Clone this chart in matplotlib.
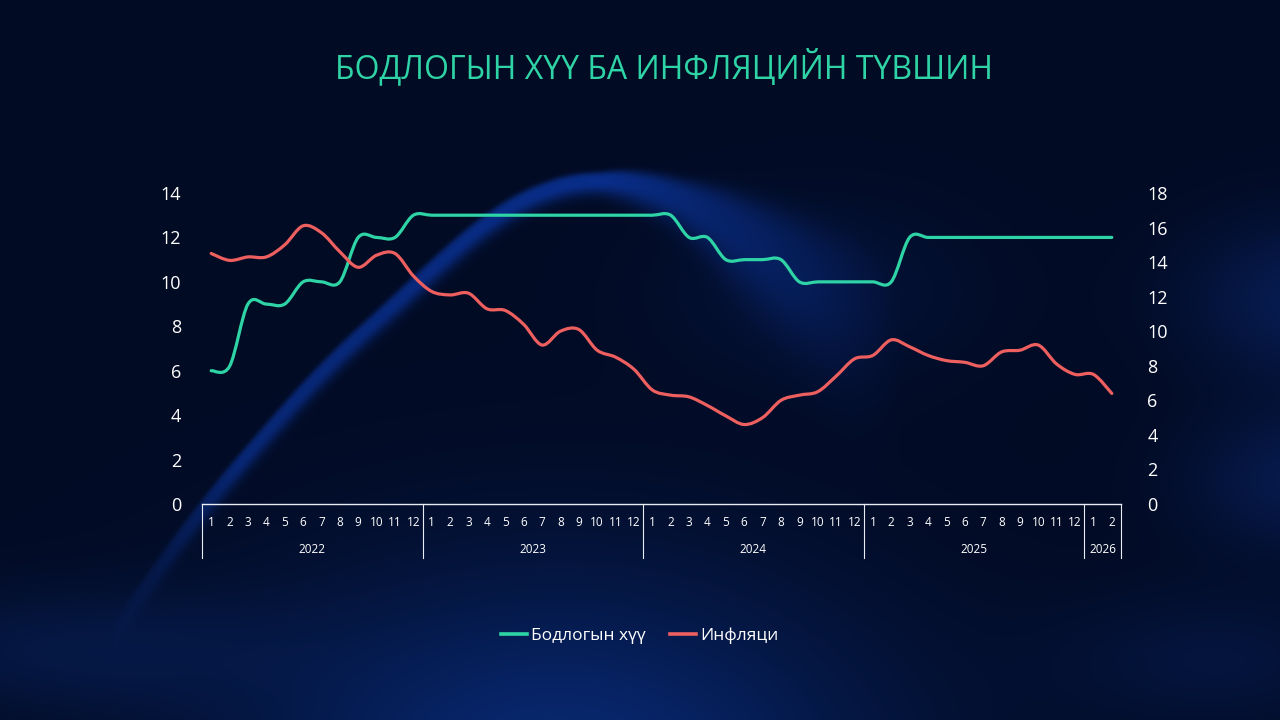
import numpy as np
import matplotlib
matplotlib.use("Agg")
import matplotlib.pyplot as plt
from matplotlib.path import Path
from matplotlib.patches import PathPatch
import matplotlib.transforms as mtransforms

plt.rcParams['font.family'] = ['Open Sans', 'DejaVu Sans']

# data
years = ['2022', '2023', '2024', '2025', '2026']
months_per_year = [12, 12, 12, 12, 2]
policy_rate = [6, 6.2, 9, 9, 9, 10, 10, 10, 12, 12, 12, 13,
               13, 13, 13, 13, 13, 13, 13, 13, 13, 13, 13, 13,
               13, 13, 12, 12, 11, 11, 11, 11, 10, 10, 10, 10,
               10, 10, 12, 12, 12, 12, 12, 12, 12, 12, 12, 12,
               12, 12]
inflation = [14.5, 14.1, 14.3, 14.3, 15.0, 16.1, 15.7, 14.6, 13.7, 14.4, 14.5, 13.2,
             12.3, 12.1, 12.2, 11.3, 11.2, 10.4, 9.2, 10.0, 10.1, 8.9, 8.5, 7.8,
             6.6, 6.3, 6.2, 5.7, 5.1, 4.6, 5.0, 6.0, 6.3, 6.5, 7.4, 8.4,
             8.6, 9.5, 9.1, 8.6, 8.3, 8.2, 8.0, 8.8, 8.9, 9.2, 8.1, 7.5,
             7.5, 6.4]

TEAL = '#2fd4a6'
RED = '#ee5f5f'
TITLE = 'БОДЛОГЫН ХҮҮ БА ИНФЛЯЦИЙН ТҮВШИН'


def smooth_path(xs, ys):
    # excel style smoothed line: catmull-rom turned into cubic beziers
    n = len(xs)
    verts = [(xs[0], ys[0])]
    codes = [Path.MOVETO]
    for i in range(n - 1):
        a = max(i - 1, 0)
        d = min(i + 2, n - 1)
        c1 = (xs[i] + (xs[i + 1] - xs[a]) / 6, ys[i] + (ys[i + 1] - ys[a]) / 6)
        c2 = (xs[i + 1] - (xs[d] - xs[i]) / 6, ys[i + 1] - (ys[d] - ys[i]) / 6)
        verts += [c1, c2, (xs[i + 1], ys[i + 1])]
        codes += [Path.CURVE4] * 3
    return Path(verts, codes)


def background(H=720, W=1280):
    yy, xx = np.mgrid[0:H, 0:W].astype(float)
    base = np.array([2, 11, 36]) / 255
    img = np.zeros((H, W, 3)) + base

    def blob(cx, cy, rx, ry, col, k=1.0):
        w = np.exp(-(((xx - cx) / rx) ** 2 + ((yy - cy) / ry) ** 2)) * k
        return w[..., None] * (np.array(col) / 255 - base)

    img += blob(560, 770, 320, 200, (8, 40, 112))
    img += blob(1310, 300, 120, 80, (8, 32, 92), 0.8)
    img += blob(1300, 480, 110, 70, (8, 32, 92), 0.7)
    img += blob(1220, 660, 160, 70, (6, 26, 76), 0.6)
    img += blob(60, 650, 220, 60, (7, 30, 82), 0.6)
    img += blob(820, 290, 160, 90, (5, 24, 72), 0.5)

    # glowing wave band (centre line smoothed so it has no kinks)
    bx = [0, 100, 150, 200, 260, 330, 400, 450, 500, 540, 595, 640, 690, 740, 800, 880, 980, 1280]
    by = [790, 650, 580, 510, 440, 362, 300, 252, 212, 190, 178, 184, 203, 233, 273, 328, 398, 600]
    x1 = np.arange(W, dtype=float)
    cy = np.interp(x1, bx, by)
    k = np.ones(81) / 81
    cy = np.convolve(np.pad(cy, 40, mode='edge'), k, mode='valid')
    cosang = np.cos(np.arctan(np.gradient(cy)))
    d = (yy - cy[None, :]) * cosang[None, :]
    wid = np.interp(x1, [150, 600, 680, 850], [7, 10, 20, 60])[None, :]
    amp = np.interp(x1, [110, 240, 600, 740, 900], [0.0, 0.75, 1.0, 0.55, 0.0])[None, :]
    core = np.where(d < 0, np.exp(-(d / wid) ** 4), np.exp(-(d / (wid * 1.25)) ** 2))
    w = core * amp
    img += w[..., None] * (np.array([9, 46, 138]) / 255 - base)
    return np.clip(img, 0, 1)


fig = plt.figure(figsize=(12.8, 7.2), dpi=100)
bg = fig.add_axes([0, 0, 1, 1], zorder=-10)
bg.imshow(background(), aspect='auto', extent=(0, 1, 0, 1), origin='upper')
bg.set_axis_off()

ax = fig.add_axes([202 / 1280, 0.3, (1121 - 202) / 1280, 311 / 720])
ax.set_facecolor('none')
ax2 = ax.twinx()

n = len(policy_rate)
x = np.arange(n)
ax.add_patch(PathPatch(smooth_path(x, policy_rate), fill=False, color=TEAL,
                       lw=2.3, capstyle='round', joinstyle='round'))
ax2.add_patch(PathPatch(smooth_path(x, inflation), fill=False, color=RED,
                        lw=2.3, capstyle='round', joinstyle='round'))

ax.set_xlim(-0.5, n - 0.5)
ax.set_ylim(0, 14)
ax2.set_ylim(0, 18)
ax.set_yticks(np.arange(0, 15, 2))
ax2.set_yticks(np.arange(0, 19, 2))
for a in (ax, ax2):
    for s in a.spines.values():
        s.set_visible(False)
    a.tick_params(axis='y', length=0, colors='white', labelsize=13)
ax.tick_params(axis='y', pad=15)
ax2.tick_params(axis='y', pad=19)
ax.spines['bottom'].set_visible(True)
ax.spines['bottom'].set_color('#e8ecf4')
ax.spines['bottom'].set_linewidth(1.0)

# two level category axis
month_labels = [str(m + 1) for cnt in months_per_year for m in range(cnt)]
ax.set_xticks(x)
ax.set_xticklabels(month_labels)
ax.tick_params(axis='x', length=0, colors='white', labelsize=8.5, pad=9)

trans = mtransforms.blended_transform_factory(ax.transData, ax.transAxes)
edge = -0.5
for yr, cnt in zip(years, months_per_year):
    ax.plot([edge, edge], [0, -0.174], transform=trans, color='#e8ecf4',
            lw=0.8, clip_on=False)
    ax.text(edge + cnt / 2, -0.145, yr, transform=trans, color='white',
            fontsize=8.5, ha='center', va='center')
    edge += cnt
ax.plot([edge, edge], [0, -0.174], transform=trans, color='#e8ecf4',
        lw=0.8, clip_on=False)

fig.text(0.519, 0.907, TITLE, color=TEAL, fontsize=23, ha='center', va='center')

h1, = ax.plot([], [], color=TEAL, lw=2.6)
h2, = ax.plot([], [], color=RED, lw=2.6)
leg = fig.legend([h1, h2], ['Бодлогын хүү', 'Инфляци'], loc='center',
                 bbox_to_anchor=(0.5, 1 - 636 / 720), ncol=2, frameon=False,
                 fontsize=12.5, handlelength=1.5, handletextpad=0.25,
                 columnspacing=1.4)
for t in leg.get_texts():
    t.set_color('white')

fig.savefig('out.png', dpi=100)
